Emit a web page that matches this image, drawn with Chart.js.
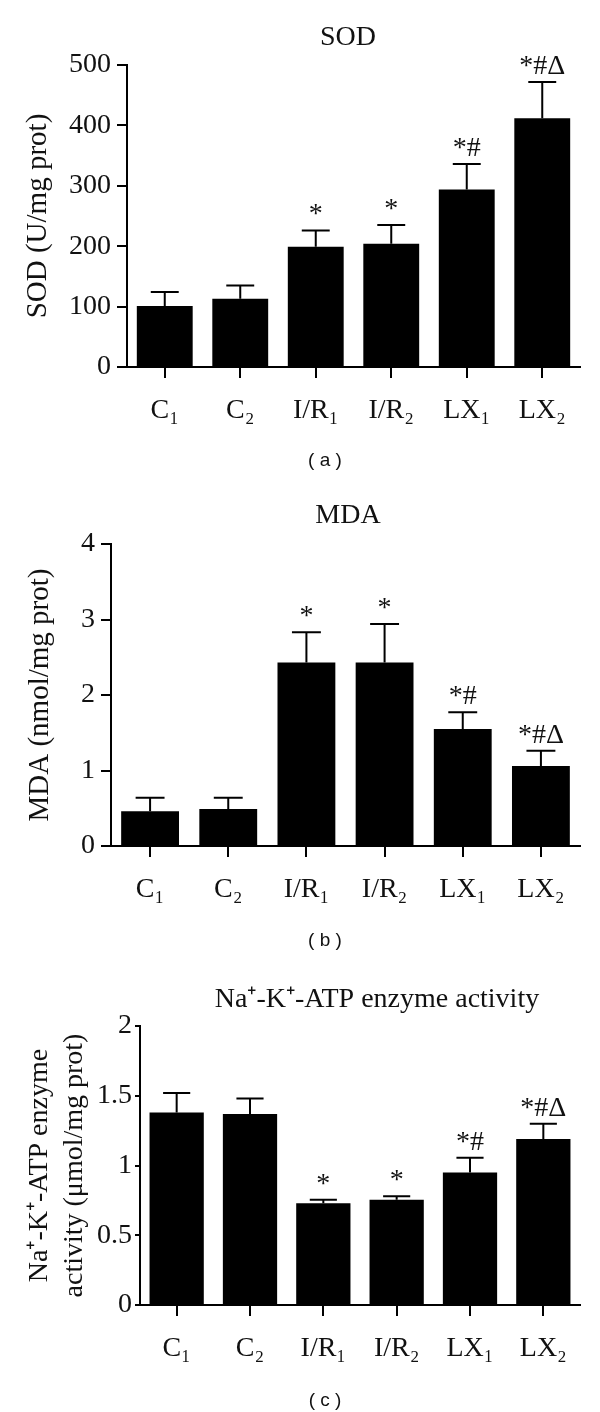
<!DOCTYPE html>
<html>
<head>
<meta charset="utf-8">
<script src="https://cdn.jsdelivr.net/npm/chart.js@4"></script>
<style>
  body { margin: 0; background: #fff; width: 600px; height: 1412px; position: relative; overflow: hidden; }
  .panel { position: absolute; left: 0; }
  .cap { position: absolute; width: 100px; text-align: center; font-family: "Liberation Sans", Arial, sans-serif; font-size: 19px; line-height: 20px; color: #111; }
</style>
</head>
<body>
<div class="panel" style="top:0"><canvas id="sodChart" width="600" height="470"></canvas></div>
<div class="panel" style="top:470px"><canvas id="mdaChart" width="600" height="470"></canvas></div>
<div class="panel" style="top:940px"><canvas id="atpChart" width="600" height="472"></canvas></div>
<div class="cap" style="left:275px;top:450px">( a )</div>
<div class="cap" style="left:275px;top:930px">( b )</div>
<div class="cap" style="left:275px;top:1390px">( c )</div>
<script>
const groups = ['C₁', 'C₂', 'I/R₁', 'I/R₂', 'LX₁', 'LX₂']
const marks = ['', '', '*', '*', '*#', '*#Δ']

// SOD (U/mg prot)
const sodMean = [101, 113, 199, 204, 294, 412]
const sodErr = [23, 22, 27, 31, 42, 60]
const sodTicks = [0, 100, 200, 300, 400, 500]

// MDA (nmol/mg prot)
const mdaMean = [0.46, 0.49, 2.43, 2.43, 1.55, 1.06]
const mdaErr = [0.18, 0.15, 0.40, 0.51, 0.22, 0.20]
const mdaTicks = [0, 1, 2, 3, 4]

// Na+-K+-ATP enzyme activity (umol/mg prot)
const atpMean = [1.38, 1.37, 0.73, 0.755, 0.95, 1.19]
const atpErr = [0.14, 0.11, 0.025, 0.025, 0.105, 0.11]
const atpTicks = [0, 0.5, 1, 1.5, 2]

const serif = '"Liberation Serif", "Times New Roman", serif'

// upper error bars + significance marks
const errorBars = {
  id: 'errorBars',
  afterDatasetsDraw(chart, args, opts) {
    const ctx = chart.ctx
    const y = chart.scales.y
    const vals = chart.data.datasets[0].data
    ctx.save()
    ctx.strokeStyle = '#000'
    ctx.fillStyle = '#111'
    ctx.lineWidth = 2
    chart.getDatasetMeta(0).data.forEach((bar, i) => {
      const yTop = y.getPixelForValue(vals[i])
      const yCap = y.getPixelForValue(vals[i] + opts.errors[i])
      const half = bar.width / 4
      ctx.beginPath()
      ctx.moveTo(bar.x, yTop)
      ctx.lineTo(bar.x, yCap)
      ctx.moveTo(bar.x - half, yCap)
      ctx.lineTo(bar.x + half, yCap)
      ctx.stroke()
      if (opts.marks[i]) {
        ctx.font = '28px ' + serif
        ctx.textAlign = 'center'
        ctx.textBaseline = 'alphabetic'
        ctx.fillText(opts.marks[i], bar.x, yCap - 8)
      }
    })
    ctx.restore()
  }
}

// panel heading above the plot
const heading = {
  id: 'heading',
  afterDraw(chart, args, opts) {
    const ctx = chart.ctx
    ctx.save()
    ctx.font = '28px ' + serif
    ctx.fillStyle = '#111'
    ctx.textAlign = 'center'
    ctx.textBaseline = 'middle'
    ctx.fillText(opts.text, opts.x, opts.y)
    ctx.restore()
  }
}

function makeChart(id, values, errors, ticks, title, yTitle, box) {
  const canvas = document.getElementById(id)
  const H = canvas.height
  return new Chart(canvas.getContext('2d'), {
    type: 'bar',
    data: {
      labels: groups,
      datasets: [{
        data: values,
        backgroundColor: '#000',
        borderWidth: 0,
        barPercentage: 0.74,
        categoryPercentage: 1
      }]
    },
    options: {
      responsive: false,
      animation: false,
      layout: { padding: { top: box.top, right: 600 - box.right, left: 0, bottom: 0 } },
      plugins: {
        legend: { display: false },
        tooltip: { enabled: false },
        errorBars: { errors: errors, marks: marks },
        heading: { text: title, x: box.titleX, y: box.titleY }
      },
      scales: {
        x: {
          afterFit: s => { s.height = H - box.bottom },
          grid: { drawOnChartArea: false, offset: false, tickLength: 11, color: '#000', lineWidth: 2 },
          border: { display: true, color: '#000', width: 2 },
          ticks: { color: '#111', padding: 16, font: { family: serif, size: 28 } }
        },
        y: {
          min: ticks[0],
          max: ticks[ticks.length - 1],
          afterFit: s => { s.width = box.left },
          afterBuildTicks: s => { s.ticks = ticks.map(v => ({ value: v })) },
          grid: { drawOnChartArea: false, tickLength: box.tickLen, color: '#000', lineWidth: 2 },
          border: { display: true, color: '#000', width: 2 },
          ticks: { color: '#111', padding: box.tickPad, font: { family: serif, size: 28 }, callback: v => String(v) },
          title: {
            display: true,
            text: yTitle,
            color: '#111',
            font: { family: serif, size: box.yTitleSize, lineHeight: 1.25 },
            padding: { top: box.yTitlePad, bottom: 0 }
          }
        }
      }
    },
    plugins: [errorBars, heading]
  })
}

makeChart('sodChart', sodMean, sodErr, sodTicks, 'SOD', 'SOD (U/mg prot)',
  { left: 127, right: 580, top: 65, bottom: 367, titleX: 348, titleY: 38,
    yTitlePad: 20, yTitleSize: 29, tickLen: 10, tickPad: 6 })
makeChart('mdaChart', mdaMean, mdaErr, mdaTicks, 'MDA', 'MDA (nmol/mg prot)',
  { left: 111, right: 580, top: 74, bottom: 376, titleX: 348, titleY: 46,
    yTitlePad: 22, yTitleSize: 29, tickLen: 10, tickPad: 6 })
makeChart('atpChart', atpMean, atpErr, atpTicks, 'Na⁺-K⁺-ATP enzyme activity',
  ['Na⁺-K⁺-ATP enzyme', 'activity (μmol/mg prot)'],
  { left: 140, right: 580, top: 86, bottom: 365, titleX: 377, titleY: 60,
    yTitlePad: 22, yTitleSize: 28, tickLen: 5, tickPad: 3 })
</script>
</body>
</html>
